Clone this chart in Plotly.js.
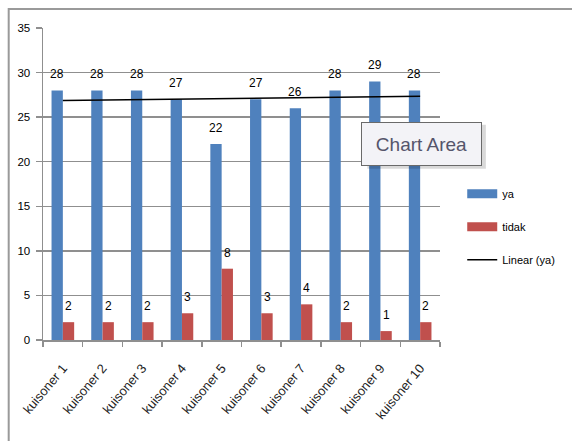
<!DOCTYPE html>
<html>
<head>
<meta charset="utf-8">
<script src="https://cdn.plot.ly/plotly-3.0.1.min.js"></script>
<style>html,body{margin:0;padding:0;background:#fff;}#chart{width:572px;height:441px;}</style>
</head>
<body>
<div id="chart"></div>
<script>
// ---- data ----
var categories = ['kuisoner 1','kuisoner 2','kuisoner 3','kuisoner 4','kuisoner 5','kuisoner 6','kuisoner 7','kuisoner 8','kuisoner 9','kuisoner 10'];
var ya = [28, 28, 28, 27, 22, 27, 26, 28, 29, 28];
var tidak = [2, 2, 2, 3, 8, 3, 4, 2, 1, 2];
var seriesNames = ['ya', 'tidak', 'Linear (ya)'];

// ---- styles ----
var BLUE = '#4F81BD', RED = '#C0504D', GRID = '#8f8f8f';
var FONT = 'Liberation Sans, Arial, sans-serif';
var BARGAP = 0.43;

// linear trendline (least squares) of "ya"
function linfit(vals) {
  var n = vals.length, sx = 0, sy = 0, sxx = 0, sxy = 0;
  for (var i = 0; i < n; i++) { var x = i + 1; sx += x; sy += vals[i]; sxx += x * x; sxy += x * vals[i]; }
  var b = (n * sxy - sx * sy) / (n * sxx - sx * sx);
  var a = (sy - b * sx) / n;
  return vals.map(function (_, i) { return a + b * (i + 1); });
}
var trend = linfit(ya);

var traces = [
  {type: 'bar', x: categories, y: ya, name: seriesNames[0], marker: {color: BLUE}, showlegend: false, hoverinfo: 'x+y'},
  {type: 'bar', x: categories, y: tidak, name: seriesNames[1], marker: {color: RED}, showlegend: false, hoverinfo: 'x+y'},
  {type: 'scatter', mode: 'lines', x: categories, y: trend, name: seriesNames[2], line: {color: '#000', width: 1.5}, showlegend: false, hoverinfo: 'skip'},
  // legend entries
  {type: 'scatter', mode: 'lines', x: [null], y: [null], name: seriesNames[0], line: {color: BLUE, width: 9}, legendgroup: 'a'},
  {type: 'scatter', mode: 'lines', x: [null], y: [null], name: seriesNames[1], line: {color: RED, width: 9}, legendgroup: 'b'},
  {type: 'scatter', mode: 'lines', x: [null], y: [null], name: seriesNames[2], line: {color: '#000', width: 1.5}, legendgroup: 'c'}
];

// data labels above each bar
var w = (1 - BARGAP) / 2;
var annotations = [];
[ya, tidak].forEach(function (vals, s) {
  var off = (s === 0 ? -w / 2 : w / 2);
  vals.forEach(function (v, i) {
    annotations.push({x: i + off, y: v, xref: 'x', yref: 'y', text: String(v), showarrow: false,
      xanchor: 'center', yanchor: 'middle', yshift: 16, font: {family: FONT, size: 12, color: '#000'}});
  });
});
// "Chart Area" tooltip
annotations.push({xref: 'paper', yref: 'paper', x: 0.9543, y: 0.628, xanchor: 'center', yanchor: 'middle',
  text: 'Chart Area', showarrow: false,
  width: 117, height: 40, bgcolor: '#f3f3f7', bordercolor: '#6a6a6a', borderwidth: 1,
  font: {family: FONT, size: 19, color: '#55556b'}});

var layout = {
  width: 572, height: 441,
  margin: {l: 43, r: 124, t: 28, b: 101, pad: 0},
  paper_bgcolor: '#fff', plot_bgcolor: '#fff',
  barmode: 'group', bargap: BARGAP, bargroupgap: 0,
  font: {family: FONT, size: 11, color: '#000'},
  xaxis: {type: 'category', showline: true, linecolor: GRID, linewidth: 1.5, ticks: 'outside', tickson: 'boundaries',
    ticklen: 5, tickcolor: GRID, tickwidth: 1.5, tickangle: -50, ticklabelstandoff: 14,
    tickfont: {family: FONT, size: 13, color: '#222'}, showgrid: false, fixedrange: true},
  yaxis: {range: [0, 35], dtick: 5, showline: true, linecolor: GRID, linewidth: 1.5, ticks: 'outside', ticklen: 6,
    tickcolor: GRID, tickwidth: 1.5, gridcolor: GRID, gridwidth: 1.5, zeroline: false, ticklabelstandoff: 3,
    tickfont: {family: FONT, size: 11.5, color: '#000'}, fixedrange: true},
  legend: {x: 1.056, xanchor: 'left', y: 0.515, yanchor: 'top', bgcolor: 'rgba(0,0,0,0)', itemwidth: 30,
    tracegroupgap: 14, traceorder: 'grouped', font: {family: FONT, size: 11, color: '#000'}},
  shapes: [
    {type: 'rect', xref: 'paper', yref: 'paper', x0: -0.0864, x1: 1.6, y0: 1.061, y1: -0.6,
      line: {color: '#9a9a9a', width: 2}, fillcolor: 'rgba(0,0,0,0)'},
    // tooltip shadow
    {type: 'rect', xref: 'paper', yref: 'paper', x0: 0.8109 + 0.006, x1: 1.1096 + 0.006, y0: 0.5577 - 0.009, y1: 0.6987 - 0.009,
      line: {width: 0}, fillcolor: 'rgba(0,0,0,0.15)', layer: 'above'}
  ],
  annotations: annotations,
  showlegend: true
};

Plotly.newPlot('chart', traces, layout, {displayModeBar: false, staticPlot: true});
</script>
</body>
</html>
